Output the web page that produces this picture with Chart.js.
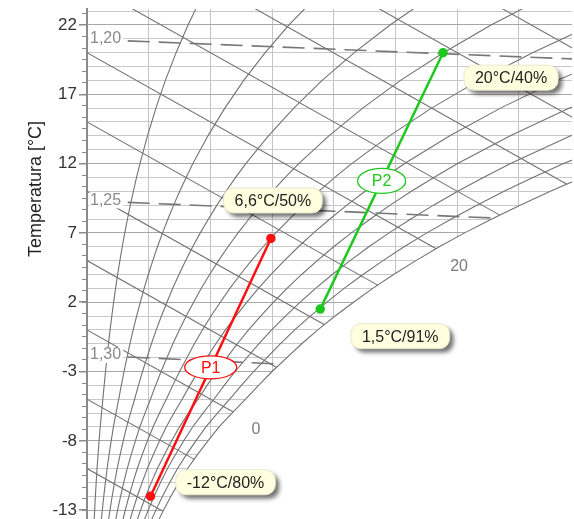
<!DOCTYPE html>
<html><head><meta charset="utf-8">
<script src="https://cdn.jsdelivr.net/npm/chart.js@4"></script>
<style>html,body{margin:0;padding:0;background:#fff;overflow:hidden}</style>
</head><body>
<canvas id="c" width="574" height="519"></canvas>
<script>
// ---- data ----
// y axis: temperature [°C]; x axis: moisture content [g/kg] (no labels shown)
const yTickLabels = [-13, -8, -3, 2, 7, 12, 17, 22];

// saturation curve (100 % RH boundary)
const satTemp  = [-14,-13,-12,-11,-10,-9,-8,-7,-6,-5,-4,-3,-2,-1,0,1,2,3,4,5,6,7,8,9,10,11,12,14,16,18,20,22,24];
const satMoist = [1.13,1.24,1.36,1.49,1.63,1.79,1.96,2.14,2.35,2.57,2.78,3.00,3.24,3.48,3.74,4.02,4.32,4.63,4.97,5.33,5.71,6.12,6.56,7.02,7.51,8.03,8.58,9.80,11.17,12.70,14.44,16.37,18.55];
const rhLevels = [10, 20, 30, 40, 50, 60, 70, 80, 90];

// enthalpy lines [kJ/kg]: start on the left axis, end on the saturation curve
const enthalpyValues   = [-10, -5, 0, 5, 10, 15, 20, 25, 30, 35, 40];
const enthalpyEndMoist = [1.23, 1.74, 2.37, 3.07, 3.85, 4.71, 5.66, 6.69, 7.77, 8.5, 8.5];
const enthalpyEndTemp  = [-13.08, -9.34, -5.92, -2.69, 0.38, 3.23, 5.86, 8.28, 10.53, 13.75, 18.75];
const enthalpyLabelled = [0, 20];

// density lines [kg/m³]
const densityLabels     = ['1,20', '1,25', '1,30'];
const densityStartMoist = [0.66, 0.66, 0.66];
const densityStartTemp  = [20.85, 9.2, -1.95];
const densityEndMoist   = [7.86, 6.59, 3.14];
const densityEndTemp    = [19.55, 8.07, -2.47];

// processes
const p1Name = 'P1', p2Name = 'P2';
const p1Temp  = [-12, 6.6];
const p1Moist = [1.03, 2.98];
const p1Texts = ['-12°C/80%', '6,6°C/50%'];
const p2Temp  = [1.5, 20];
const p2Moist = [3.78, 5.77];
const p2Texts = ['1,5°C/91%', '20°C/40%'];
const yTitle = 'Temperatura [°C]';

// ---- layout / style ----
const FONT = '"Liberation Sans", Arial, Helvetica, sans-serif';
const X_MIN = 0, X_MAX = 7.86;
const Y_MIN = -13.64, Y_MAX = 23.15;
const calloutOffsets = { p1: [[75, -14], [2, -38]], p2: [[80, 27], [68, 25]] };
const GRID = '#727272';

const datasets = [];
datasets.push({
  label: '100%', data: satTemp.map((t, i) => ({ x: satMoist[i], y: t })),
  showLine: true, pointRadius: 0, borderColor: GRID, borderWidth: 1.1,
  fill: 'start', backgroundColor: '#ffffff', order: 100
});
rhLevels.forEach(rh => datasets.push({
  label: rh + '%', data: satTemp.map((t, i) => ({ x: satMoist[i] * rh / 100, y: t })),
  showLine: true, pointRadius: 0, borderColor: GRID, borderWidth: 1.1, fill: false, order: 50
}));
enthalpyValues.forEach((h, i) => datasets.push({
  label: 'h=' + h, data: [{ x: 0, y: h }, { x: enthalpyEndMoist[i], y: enthalpyEndTemp[i] }],
  showLine: true, pointRadius: 0, borderColor: GRID, borderWidth: 1.1, fill: false, order: 50
}));
densityLabels.forEach((d, i) => datasets.push({
  label: d, data: [{ x: densityStartMoist[i], y: densityStartTemp[i] }, { x: densityEndMoist[i], y: densityEndTemp[i] }],
  showLine: true, pointRadius: 0, borderColor: '#777777', borderWidth: 1.6, borderDash: [22, 9], fill: false, order: 40
}));
datasets.push({
  label: p1Name, data: p1Temp.map((t, i) => ({ x: p1Moist[i], y: t })),
  showLine: true, borderColor: '#ff1010', borderWidth: 2.5, pointRadius: 3.5,
  pointBackgroundColor: '#ff1010', pointBorderColor: '#ff1010', fill: false, order: 1
});
datasets.push({
  label: p2Name, data: p2Temp.map((t, i) => ({ x: p2Moist[i], y: t })),
  showLine: true, borderColor: '#1ec81e', borderWidth: 2.5, pointRadius: 3.5,
  pointBackgroundColor: '#1ec81e', pointBorderColor: '#1ec81e', fill: false, order: 1
});

function rr(ctx, x, y, w, h, r) {
  ctx.beginPath();
  ctx.moveTo(x + r, y);
  ctx.arcTo(x + w, y, x + w, y + h, r);
  ctx.arcTo(x + w, y + h, x, y + h, r);
  ctx.arcTo(x, y + h, x, y, r);
  ctx.arcTo(x, y, x + w, y, r);
  ctx.closePath();
}
function callout(ctx, cx, cy, text) {
  ctx.font = '16px ' + FONT;
  const w = ctx.measureText(text).width + 22, h = 25;
  const x = cx - w / 2, y = cy - h / 2;
  ctx.save();
  ctx.shadowColor = 'rgba(0,0,0,0.55)'; ctx.shadowBlur = 4;
  ctx.shadowOffsetX = 4; ctx.shadowOffsetY = 4;
  rr(ctx, x, y, w, h, 10);
  ctx.fillStyle = '#ffffe0'; ctx.fill();
  ctx.restore();
  rr(ctx, x, y, w, h, 10);
  ctx.strokeStyle = '#e8e8cc'; ctx.lineWidth = 1; ctx.stroke();
  ctx.fillStyle = '#222'; ctx.textAlign = 'center'; ctx.textBaseline = 'middle';
  ctx.fillText(text, cx, cy + 1);
}
function ellipseLabel(ctx, cx, cy, text, color, rx, ry) {
  ctx.beginPath();
  ctx.ellipse(cx, cy, rx, ry, 0, 0, Math.PI * 2);
  ctx.fillStyle = '#fff'; ctx.fill();
  ctx.strokeStyle = color; ctx.lineWidth = 1.3; ctx.stroke();
  ctx.font = '16px ' + FONT;
  ctx.fillStyle = color; ctx.textAlign = 'center'; ctx.textBaseline = 'middle';
  ctx.fillText(text, cx, cy + 1);
}

const overlay = {
  id: 'overlay',
  afterDatasetsDraw(chart) {
    const ctx = chart.ctx, xs = chart.scales.x, ys = chart.scales.y;
    ctx.save();
    // density labels
    ctx.font = '16px ' + FONT; ctx.textBaseline = 'middle'; ctx.textAlign = 'left';
    densityLabels.forEach((d, i) => {
      const px = xs.getPixelForValue(0) + 3, py = ys.getPixelForValue(densityStartTemp[i]) - 2;
      const w = ctx.measureText(d).width;
      ctx.fillStyle = '#fff'; ctx.fillRect(px - 1, py - 8, w + 3, 16);
      ctx.fillStyle = '#8a8a8a'; ctx.fillText(d, px, py);
    });
    // enthalpy labels beyond the saturation curve
    ctx.textAlign = 'center'; ctx.fillStyle = '#7a7a7a';
    enthalpyLabelled.forEach(h => {
      const i = enthalpyValues.indexOf(h);
      const xv = enthalpyEndMoist[i] + 0.37;
      const tv = enthalpyEndTemp[i] - 2.5 * 0.37 - 0.35;
      ctx.fillText(String(h), xs.getPixelForValue(xv), ys.getPixelForValue(tv));
    });
    // process labels
    const procs = [
      { idx: chart.data.datasets.length - 2, name: p1Name, texts: p1Texts, off: calloutOffsets.p1, color: '#ff1010', rx: 26, ry: 11.5 },
      { idx: chart.data.datasets.length - 1, name: p2Name, texts: p2Texts, off: calloutOffsets.p2, color: '#1ec81e', rx: 24, ry: 12.5 }
    ];
    procs.forEach(p => {
      const pts = chart.getDatasetMeta(p.idx).data;
      ellipseLabel(ctx, (pts[0].x + pts[1].x) / 2, (pts[0].y + pts[1].y) / 2, p.name, p.color, p.rx, p.ry);
    });
    procs.forEach(p => {
      const pts = chart.getDatasetMeta(p.idx).data;
      pts.forEach((pt, k) => callout(ctx, pt.x + p.off[k][0], pt.y + p.off[k][1], p.texts[k]));
    });
    // y axis title
    ctx.translate(36, 189); ctx.rotate(-Math.PI / 2);
    ctx.font = '18px ' + FONT; ctx.fillStyle = '#222'; ctx.textAlign = 'center'; ctx.textBaseline = 'middle';
    ctx.fillText(yTitle, 0, 0);
    ctx.restore();
  }
};

const noPad = s => { s.paddingTop = 0; s.paddingBottom = 0; s.paddingLeft = 0; s.paddingRight = 0; };
const yBase = { type: 'linear', min: Y_MIN, max: Y_MAX, position: 'left' };
new Chart(document.getElementById('c'), {
  type: 'scatter',
  data: { datasets },
  options: {
    responsive: false, animation: false, events: [],
    layout: { autoPadding: false, padding: { left: 0, top: 9, right: 2, bottom: 0 } },
    plugins: { legend: { display: false }, tooltip: { enabled: false }, title: { display: false } },
    scales: {
      x: {
        type: 'linear', min: X_MIN, max: X_MAX, position: 'bottom',
        afterBuildTicks: s => { s.ticks = [1, 2, 3, 4, 5, 6, 7].map(v => ({ value: v })); },
        ticks: { display: false }, grid: { color: '#c4c4c4', drawTicks: false, lineWidth: 1 },
        border: { display: false }, afterFit: s => { s.height = 0; noPad(s); }
      },
      y: Object.assign({}, yBase, {
        weight: 3,
        afterBuildTicks: s => { s.ticks = yTickLabels.map(v => ({ value: v })); },
        ticks: { color: '#333', font: { family: FONT, size: 17 }, padding: 2, callback: v => String(v) },
        grid: { drawOnChartArea: false, tickLength: 8, color: '#8a8a8a', lineWidth: 1.5 },
        border: { display: true, color: '#8a8a8a', width: 2 },
        afterFit: s => { s.width = 87; noPad(s); }
      }),
      yMinor: Object.assign({}, yBase, {
        weight: 2,
        afterBuildTicks: s => { const t = []; for (let k = 0; k <= 43; k++) t.push({ value: -13 + k * 5 / 6 }); s.ticks = t; },
        ticks: { display: false },
        grid: { drawOnChartArea: false, tickLength: 5, color: '#8a8a8a', lineWidth: 1 },
        border: { display: false }, afterFit: s => { s.width = 0; noPad(s); }
      }),
      yGrid: Object.assign({}, yBase, {
        weight: 1,
        afterBuildTicks: s => { const t = []; for (let v = -13; v <= 23; v++) t.push({ value: v }); s.ticks = t; },
        ticks: { display: false },
        grid: { drawTicks: false, lineWidth: 1, color: c => (c.tick && ((c.tick.value + 13) % 5 === 0)) ? '#a8a8a8' : '#c8c8c8' },
        border: { display: false }, afterFit: s => { s.width = 0; noPad(s); }
      })
    }
  },
  plugins: [overlay]
});
</script>
</body></html>
